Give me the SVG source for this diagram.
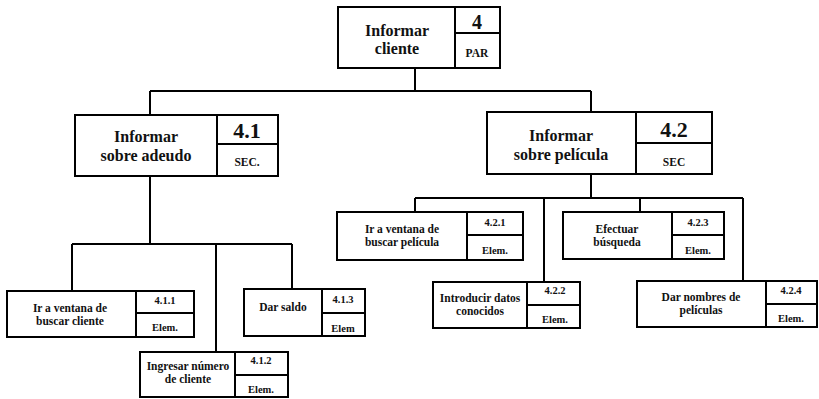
<svg xmlns="http://www.w3.org/2000/svg" width="819" height="399" viewBox="0 0 819 399">
<style>
.b{fill:#fff;stroke:#000;stroke-width:2}
.l{fill:none;stroke:#000;stroke-width:2}
text{font-family:"Liberation Serif","DejaVu Serif",serif;font-weight:bold;fill:#111;text-anchor:middle}
.t1{font-size:16px}
.n1{font-size:22px}
.s1{font-size:11.5px}
.t3{font-size:11.5px}
.n3{font-size:10.5px}
</style>
<rect width="819" height="399" fill="#fff"/>
<g id="connectors" class="l">
<path d="M415 68V91M150 91H591M150 91V115M591 91V112"/>
<path d="M150 176V244M72 244H292M72 244V291M216 244V352M292 244V289"/>
<path d="M591 174V198M415 198H743M415 198V212M544 198V282M640 198V212M743 198V281"/>
</g>
<g id="n4">
<rect class="b" x="338" y="7" width="162" height="61"/>
<path class="l" d="M455 7V68M455 33H500"/>
<text class="t1" x="397" y="36">Informar</text>
<text class="t1" x="397" y="54">cliente</text>
<text class="n1" x="477" y="29" style="font-size:20px">4</text>
<text class="s1" x="477" y="57">PAR</text>
</g>
<g id="n41">
<rect class="b" x="75" y="115" width="203" height="61"/>
<path class="l" d="M217 115V176M217 144H278"/>
<text class="t1" x="146" y="142">Informar</text>
<text class="t1" x="146" y="161">sobre adeudo</text>
<text class="n1" x="247" y="138">4.1</text>
<text class="s1" x="247" y="166">SEC.</text>
</g>
<g id="n42">
<rect class="b" x="487" y="112" width="225" height="62"/>
<path class="l" d="M636 112V174M636 143H712"/>
<text class="t1" x="561" y="141">Informar</text>
<text class="t1" x="561" y="160">sobre película</text>
<text class="n1" x="674" y="137">4.2</text>
<text class="s1" x="674" y="166">SEC</text>
</g>
<g id="n411">
<rect class="b" x="7" y="291" width="187" height="46"/>
<path class="l" d="M136 291V337M136 313H194"/>
<text class="t3" x="70" y="312">Ir a ventana de</text>
<text class="t3" x="70" y="325">buscar cliente</text>
<text class="n3" x="165" y="304">4.1.1</text>
<text class="n3" x="165" y="331">Elem.</text>
</g>
<g id="n412">
<rect class="b" x="140" y="352" width="148" height="45"/>
<path class="l" d="M235 352V397M235 375H288"/>
<text class="t3" x="188" y="370">Ingresar número</text>
<text class="t3" x="188" y="383">de cliente</text>
<text class="n3" x="261" y="364">4.1.2</text>
<text class="n3" x="261" y="393">Elem.</text>
</g>
<g id="n413">
<rect class="b" x="244" y="289" width="121" height="47"/>
<path class="l" d="M322 289V336M322 313H365"/>
<text class="t3" x="283" y="311">Dar saldo</text>
<text class="n3" x="343" y="303">4.1.3</text>
<text class="n3" x="343" y="332">Elem</text>
</g>
<g id="n421">
<rect class="b" x="337" y="212" width="186" height="48"/>
<path class="l" d="M467 212V260M467 235H523"/>
<text class="t3" x="402" y="233">Ir a ventana de</text>
<text class="t3" x="402" y="246">buscar película</text>
<text class="n3" x="495" y="226">4.2.1</text>
<text class="n3" x="495" y="254">Elem.</text>
</g>
<g id="n422">
<rect class="b" x="433" y="282" width="147" height="46"/>
<path class="l" d="M527 282V328M527 305H580"/>
<text class="t3" x="480" y="302">Introducir datos</text>
<text class="t3" x="480" y="315">conocidos</text>
<text class="n3" x="555" y="294">4.2.2</text>
<text class="n3" x="555" y="323">Elem.</text>
</g>
<g id="n423">
<rect class="b" x="563" y="212" width="161" height="47"/>
<path class="l" d="M672 212V259M672 235H724"/>
<text class="t3" x="617" y="233">Efectuar</text>
<text class="t3" x="617" y="246">búsqueda</text>
<text class="n3" x="698" y="226">4.2.3</text>
<text class="n3" x="698" y="254">Elem.</text>
</g>
<g id="n424">
<rect class="b" x="637" y="281" width="180" height="46"/>
<path class="l" d="M766 281V327M766 304H817"/>
<text class="t3" x="701" y="301">Dar nombres de</text>
<text class="t3" x="701" y="314">películas</text>
<text class="n3" x="791" y="294">4.2.4</text>
<text class="n3" x="791" y="322">Elem.</text>
</g>
</svg>
